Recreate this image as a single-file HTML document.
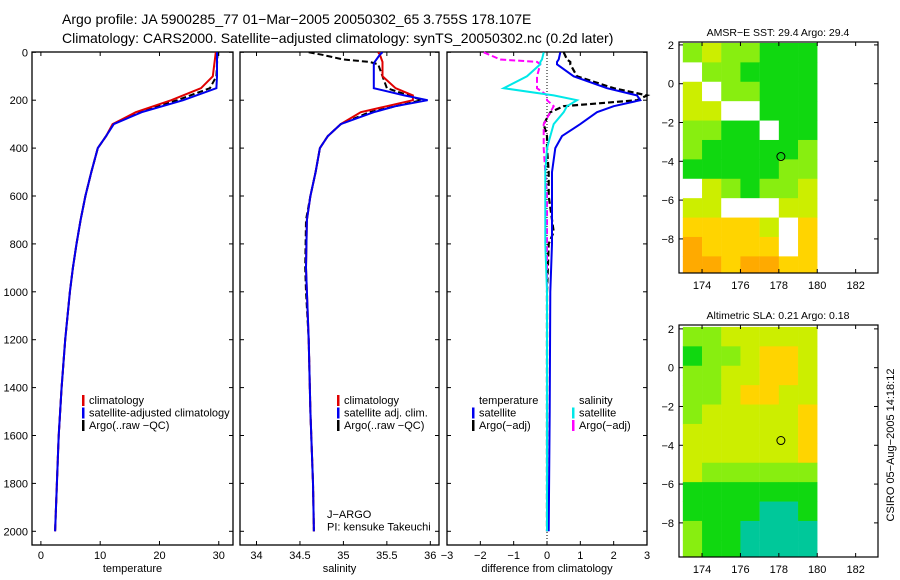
<!DOCTYPE html>
<html><head><meta charset="utf-8"><style>
html,body{margin:0;padding:0;background:#fff;}
svg{display:block;font-family:"Liberation Sans",sans-serif;}
</style></head><body>
<svg id="fig" width="900" height="580" viewBox="0 0 900 580" xmlns="http://www.w3.org/2000/svg">
<rect width="900" height="580" fill="#fff"/>
<text x="62" y="24" font-size="14">Argo profile: JA 5900285_77 01−Mar−2005 20050302_65 3.755S 178.107E</text>
<text x="62" y="43" font-size="14">Climatology: CARS2000. Satellite−adjusted climatology: synTS_20050302.nc (0.2d later)</text>
<g id="g"></g>
<text transform="translate(894,445) rotate(-90)" font-size="11" text-anchor="middle">CSIRO 05−Aug−2005 14:18:12</text>
</svg>
<script>
// ---- data ----
const tDepth = [0,100,150,200,250,300,350,400,500,600,700,800,900,1000,1200,1400,1600,1800,2000];
const tClim  = [29.5,29.0,27.0,22.0,16.0,12.1,11.0,9.6,8.5,7.5,6.7,6.0,5.4,4.9,4.1,3.5,3.0,2.7,2.4];
const tSat   = [29.7,29.7,29.6,24.0,17.0,12.3,11.0,9.6,8.5,7.5,6.7,6.0,5.4,4.9,4.1,3.5,3.0,2.7,2.4];
const tArgo  = [29.8,29.6,28.5,23.0,16.5,12.2,11.0,9.6,8.5,7.5,6.7,6.0,5.4,4.9,4.1,3.5,3.0,2.7,2.4];
const sDepth = [0,10,30,40,50,100,150,180,200,225,250,300,350,400,500,600,700,900,1000,1200,1500,1800,2000];
const sClim  = [35.4,35.42,35.44,35.45,35.45,35.45,35.6,35.8,35.8,35.5,35.2,34.97,34.82,34.73,34.68,34.62,34.58,34.57,34.58,34.6,34.62,34.65,34.66];
const sSat   = [35.45,35.42,35.38,35.36,35.35,35.35,35.35,35.7,35.97,35.6,35.35,34.97,34.82,34.73,34.68,34.62,34.58,34.57,34.58,34.6,34.62,34.65,34.66];
const sArgo  = [34.6,34.75,35.0,35.3,35.4,35.45,35.5,35.75,35.9,35.6,35.3,34.97,34.82,34.73,34.68,34.62,34.57,34.56,34.57,34.6,34.62,34.65,34.66];
const dDepth = [0,30,40,50,100,150,180,200,225,250,300,350,400,500,600,750,800,1000,1500,2000];
const dTSat  = [0.4,0.35,0.3,0.3,0.8,1.8,2.7,2.8,2.0,1.5,1.0,0.45,0.25,0.15,0.15,0.15,0.15,0.1,0.08,0.05];
const dTArgo = [0.5,0.6,0.7,0.7,0.9,2.0,3.0,2.7,0.5,0.1,-0.1,0.0,0.0,0.05,0.05,0.2,0.05,0.0,0.0,0.0];
const dSSat  = [-0.1,-0.15,-0.2,-0.2,-0.6,-1.3,0.2,0.9,0.6,0.5,0.2,0.1,0.0,-0.05,-0.05,-0.05,-0.05,0.0,0.0,0.0];
const dSArgo = [-1.9,-1.4,-0.3,-0.2,-0.3,-0.3,0.0,0.0,0.2,0.1,-0.1,-0.1,-0.1,-0.05,0.0,0.0,0.0,0.0,0.0,0.0];
const depthTicks = [0,200,400,600,800,1000,1200,1400,1600,1800,2000];
const tTicks = [0,10,20,30];
const sTicks = [34,34.5,35,35.5,36];
const dTicks = [-3,-2,-1,0,1,2,3];
const lonTicks = [174,176,178,180,182];
const latTicks = [2,0,-2,-4,-6,-8];
const sstGrid = [
[3,4,3,3,2,2,2],[0,3,3,2,2,2,2],[4,0,3,3,2,2,2],[4,4,0,0,2,2,2],
[3,3,2,2,0,2,2],[3,2,2,2,2,2,3],[2,2,2,2,2,3,3],[0,4,3,2,3,3,4],
[4,4,0,0,0,4,4],[5,5,5,5,4,0,5],[6,5,5,5,5,0,5],[6,6,5,6,6,5,5]];
const slaGrid = [
[3,3,4,4,4,4,4],[2,3,3,4,5,5,4],[3,3,4,4,5,5,4],[3,3,4,5,5,4,4],
[3,4,4,4,4,4,5],[4,4,4,4,4,4,5],[4,4,4,4,4,4,5],[4,3,3,3,3,3,3],
[2,2,2,2,2,2,2],[2,2,2,2,1,1,2],[3,2,2,1,1,1,1],[3,2,2,1,1,1,1]];
const palette = ['#ffffff','#00c89a','#10d810','#88ee10','#ccee00','#ffd400','#ffaa00'];
const floatLon = 178.107, floatLat = -3.755;

// ---- drawing ----
const NS='http://www.w3.org/2000/svg';
const G=document.getElementById('g');
function el(tag,attrs,parent){const e=document.createElementNS(NS,tag);for(const k in attrs)e.setAttribute(k,attrs[k]);(parent||G).appendChild(e);return e;}
const yD = d => 52.3 + d*0.2395;
const pTop=52, pBot=545;
function panel(name,x0,x1,vmin,vmax,ticks,xlabel,showY){
  const g=el('g',{});
  
  
  const xf=v=>x0+(v-vmin)/(vmax-vmin)*(x1-x0);
  const f=el('rect',{x:x0,y:pTop,width:x1-x0,height:pBot-pTop,fill:'none',stroke:'#000','stroke-width':1.3},g);
  
  
  depthTicks.forEach(d=>{
    el('line',{x1:x0,x2:x0+4,y1:yD(d),y2:yD(d),stroke:'#000'},g);
    el('line',{x1:x1,x2:x1-4,y1:yD(d),y2:yD(d),stroke:'#000'},g);
    if(showY){const t=el('text',{x:x0-4,y:yD(d)+4,'font-size':11,'text-anchor':'end'},g);t.textContent=d;
      
      }
  });
  ticks.forEach(v=>{
    el('line',{x1:xf(v),x2:xf(v),y1:pBot,y2:pBot-4,stroke:'#000'},g);
    el('line',{x1:xf(v),x2:xf(v),y1:pTop,y2:pTop+4,stroke:'#000'},g);
    const t=el('text',{x:xf(v),y:pBot+14,'font-size':11,'text-anchor':'middle'},g);t.textContent=(v<0?'−'+(-v):v);
    
    
  });
  const xl=el('text',{x:(x0+x1)/2,y:572,'font-size':11,'text-anchor':'middle'},g);xl.textContent=xlabel;
  
  
  return xf;
}
function line(xf,depths,vals,color,w,dash,name){
  const pts=depths.map((d,i)=>xf(vals[i]).toFixed(1)+','+yD(d).toFixed(1)).join(' ');
  const p=el('polyline',{points:pts,fill:'none',stroke:color,'stroke-width':w});
  if(dash)p.setAttribute('stroke-dasharray',dash);
  
  
}
function legend(x,y,items){
  items.forEach((it,i)=>{
    const yy=y+i*12.5;
    if(it[0]){const r=el('rect',{x:x,y:yy-9,width:2.5,height:11,fill:it[0]});
      
      }
    const t=el('text',{x:x+7,y:yy,'font-size':11});t.textContent=it[1];
    
    
  });
}
const xT=panel('temperature-panel',32,233,-1.5,32.4,tTicks,'temperature',true);
line(xT,tDepth,tArgo,'#000',2,'6,3','argo-temperature-line');
line(xT,tDepth,tClim,'#e00000',2,null,'climatology-temperature-line');
line(xT,tDepth,tSat,'#0000ee',2,null,'satellite-temperature-line');
legend(82,404,[['#e00000','climatology'],['#0000ee','satellite-adjusted climatology'],['#000','Argo(..raw −QC)']]);
const xS=panel('salinity-panel',240,439,33.81,36.1,sTicks,'salinity',false);
line(xS,sDepth,sArgo,'#000',2,'6,3','argo-salinity-line');
line(xS,sDepth,sClim,'#e00000',2,null,'climatology-salinity-line');
line(xS,sDepth,sSat,'#0000ee',2,null,'satellite-salinity-line');
legend(337,404,[['#e00000','climatology'],['#0000ee','satellite adj. clim.'],['#000','Argo(..raw −QC)']]);
legend(320,518,[[null,'J−ARGO'],[null,'PI: kensuke Takeuchi']]);
const xDf=panel('difference-panel',447,647,-3,3,dTicks,'difference from climatology',false);
const zl=el('line',{x1:xDf(0),x2:xDf(0),y1:pTop,y2:pBot,stroke:'#000','stroke-dasharray':'1,2'});


line(xDf,dDepth,dTArgo,'#000',2.2,'6,3','argo-temperature-diff-line');
line(xDf,dDepth,dTSat,'#0000ee',2,null,'satellite-temperature-diff-line');
line(xDf,dDepth,dSArgo,'#ff00ff',2,'6,3','argo-salinity-diff-line');
line(xDf,dDepth,dSSat,'#00e8e8',2,null,'satellite-salinity-diff-line');
legend(472,404,[[null,'temperature'],['#0000ee','satellite'],['#000','Argo(−adj)']]);
legend(572,404,[[null,'salinity'],['#00e8e8','satellite'],['#ff00ff','Argo(−adj)']]);
function map(name,title,grid,yTop,yBot,latTop){
  const x0=679,x1=878;
  const lonX=l=>x0+(l-172.8)*19.2;
  const latY=a=>yTop+(latTop-a)*19.4;
  const g=el('g',{});
  
  
  grid.forEach((row,r)=>row.forEach((v,c)=>{
    const y1=Math.max(latY(2.1-r),yTop), y2=Math.min(latY(1.1-r),yBot);
    if(y2<=y1)return;
    const cell=el('rect',{x:lonX(173+c),y:y1,width:19.4,height:y2-y1+0.4,fill:palette[v]},g);
    
    
  }));
  const f=el('rect',{x:x0,y:yTop,width:x1-x0,height:yBot-yTop,fill:'none',stroke:'#000','stroke-width':1.2},g);
  
  
  lonTicks.forEach(l=>{
    el('line',{x1:lonX(l),x2:lonX(l),y1:yBot,y2:yBot-4,stroke:'#000'},g);
    el('line',{x1:lonX(l),x2:lonX(l),y1:yTop,y2:yTop+4,stroke:'#000'},g);
    const t=el('text',{x:lonX(l),y:yBot+16,'font-size':11,'text-anchor':'middle'},g);t.textContent=l;
    
    
  });
  latTicks.forEach(a=>{
    el('line',{x1:x0,x2:x0+4,y1:latY(a),y2:latY(a),stroke:'#000'},g);
    el('line',{x1:x1,x2:x1-4,y1:latY(a),y2:latY(a),stroke:'#000'},g);
    const t=el('text',{x:x0-5,y:latY(a)+4,'font-size':11,'text-anchor':'end'},g);t.textContent=(a<0?'−'+(-a):a);
    
    
  });
  const c=el('circle',{cx:lonX(floatLon),cy:latY(floatLat),r:4,fill:'none',stroke:'#000'},g);
  
  
  const t=el('text',{x:778,y:yTop-6,'font-size':10.5,'text-anchor':'middle'},g);t.textContent=title;
  
  
}
map('sst-map','AMSR−E SST: 29.4 Argo: 29.4',sstGrid,42,273,2.15);
map('sla-map','Altimetric SLA: 0.21 Argo: 0.18',slaGrid,325,557,2.2);
</script>
</body></html>
